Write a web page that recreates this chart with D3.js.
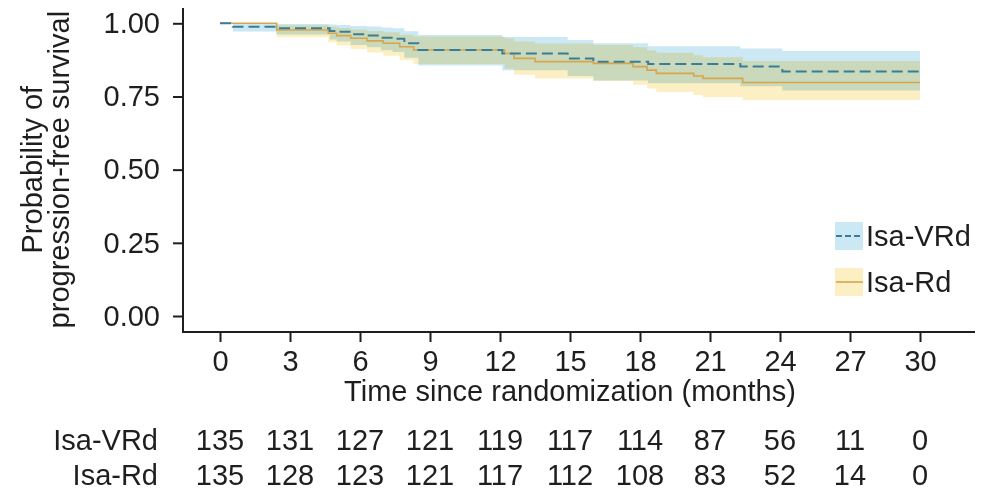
<!DOCTYPE html>
<html>
<head>
<meta charset="utf-8">
<script src="https://cdn.jsdelivr.net/npm/d3@7"></script>
<style>
  body { margin: 0; background: #fff; }
  svg { display: block; font-family: "Liberation Sans", Arial, sans-serif; }
</style>
</head>
<body>
<svg id="chart" width="981" height="493"></svg>
<script>
  // risk table
  var months = [0, 3, 6, 9, 12, 15, 18, 21, 24, 27, 30];
  var riskVRd = [135, 131, 127, 121, 119, 117, 114, 87, 56, 11, 0];
  var riskRd = [135, 128, 123, 121, 117, 112, 108, 83, 52, 14, 0];

  // Isa-VRd step curve + CI
  var vrdTime  = [0, 0.55, 2.4, 4.7, 5.0, 5.6, 6.3, 6.9, 7.4, 7.9, 8.5, 12.1, 14.9, 16.0, 18.35, 22.3, 24.1, 30];
  var vrdSurv  = [1.0, 0.988, 0.983, 0.974, 0.971, 0.963, 0.958, 0.951, 0.947, 0.932, 0.909, 0.897, 0.880, 0.869, 0.861, 0.852, 0.835, 0.835];
  var vrdUpper = [1.0, 1.0, 0.998, 0.996, 0.994, 0.991, 0.989, 0.986, 0.983, 0.973, 0.960, 0.953, 0.943, 0.932, 0.922, 0.914, 0.905, 0.905];
  var vrdLower = [1.0, 0.972, 0.962, 0.945, 0.938, 0.926, 0.918, 0.908, 0.902, 0.882, 0.856, 0.840, 0.820, 0.805, 0.795, 0.785, 0.770, 0.770];

  // Isa-Rd step curve + CI
  var rdTime  = [0, 2.43, 4.64, 5.0, 5.6, 6.3, 7.0, 7.7, 8.3, 12.2, 12.6, 13.5, 16.0, 17.7, 18.3, 18.7, 20.3, 20.7, 22.4, 30];
  var rdSurv  = [1.0, 0.977, 0.966, 0.958, 0.949, 0.940, 0.932, 0.920, 0.909, 0.897, 0.880, 0.869, 0.863, 0.852, 0.840, 0.829, 0.820, 0.812, 0.798, 0.798];
  var rdUpper = [1.0, 0.993, 0.988, 0.984, 0.979, 0.974, 0.969, 0.961, 0.955, 0.948, 0.938, 0.931, 0.926, 0.918, 0.908, 0.899, 0.891, 0.884, 0.871, 0.871];
  var rdLower = [1.0, 0.952, 0.935, 0.924, 0.912, 0.900, 0.889, 0.874, 0.861, 0.845, 0.824, 0.811, 0.803, 0.790, 0.777, 0.765, 0.755, 0.747, 0.738, 0.738];

  var yTicks = [0, 0.25, 0.5, 0.75, 1];

  var svg = d3.select("#chart");
  var ink = "#1e1e1e";
  var fs = "29px";

  var x = d3.scaleLinear().domain([0, 30]).range([220, 920]);
  var y = d3.scaleLinear().domain([0, 1]).range([316, 23.3]);

  function rows(t, s, lo, hi) {
    return t.map(function(d, i) { return { t: d, s: s[i], lo: lo[i], hi: hi[i] }; });
  }
  var vrd = rows(vrdTime, vrdSurv, vrdLower, vrdUpper);
  var rd = rows(rdTime, rdSurv, rdLower, rdUpper);

  var band = d3.area()
    .curve(d3.curveStepAfter)
    .x(function(d) { return x(d.t); })
    .y0(function(d) { return y(d.lo); })
    .y1(function(d) { return y(d.hi); });

  var line = d3.line()
    .curve(d3.curveStepAfter)
    .x(function(d) { return x(d.t); })
    .y(function(d) { return y(d.s); });

  var plot = svg.append("g").attr("class", "plot").style("isolation", "isolate");

  plot.append("path").datum(vrd)
    .attr("d", band)
    .attr("fill", "#cce8f4")
    .style("mix-blend-mode", "multiply");
  plot.append("path").datum(rd)
    .attr("d", band)
    .attr("fill", "#fdefc4")
    .style("mix-blend-mode", "multiply");

  plot.append("path").datum(rd)
    .attr("d", line)
    .attr("fill", "none")
    .attr("stroke", "#d6a64c")
    .attr("stroke-width", 1.6);
  plot.append("path").datum(vrd)
    .attr("d", line)
    .attr("fill", "none")
    .attr("stroke", "#3a7d98")
    .attr("stroke-width", 2)
    .attr("stroke-dasharray", "11,5");

  // axes
  var yAxis = svg.append("g")
    .attr("transform", "translate(183,0)")
    .call(d3.axisLeft(y).tickValues(yTicks).tickFormat(d3.format(".2f")).tickSize(10).tickPadding(13));
  var xAxis = svg.append("g")
    .attr("transform", "translate(0,332)")
    .call(d3.axisBottom(x).tickValues(months).tickFormat(d3.format("d")).tickSize(10).tickPadding(8));

  [yAxis, xAxis].forEach(function(g) {
    g.select(".domain").remove();
    g.selectAll(".tick line").attr("stroke", ink).attr("stroke-width", 2);
    g.selectAll(".tick text")
      .attr("fill", ink)
      .style("font-family", '"Liberation Sans", Arial, sans-serif')
      .style("font-size", fs);
  });

  svg.append("path")
    .attr("d", "M183,8V332H975")
    .attr("fill", "none")
    .attr("stroke", ink)
    .attr("stroke-width", 2);

  // axis titles
  svg.append("text")
    .attr("x", x(15))
    .attr("y", 401)
    .attr("text-anchor", "middle")
    .attr("fill", ink)
    .style("font-size", fs)
    .text("Time since randomization (months)");

  var yTitle = svg.append("text")
    .attr("transform", "translate(0," + y(0.5) + ") rotate(-90)")
    .attr("text-anchor", "middle")
    .attr("fill", ink)
    .style("font-size", fs);
  yTitle.append("tspan").attr("x", 0).attr("y", 42).text("Probability of");
  yTitle.append("tspan").attr("x", 0).attr("y", 69).text("progression-free survival");

  // legend
  var legend = svg.append("g").attr("transform", "translate(835,222)");
  var items = [
    { name: "Isa-VRd", fill: "#cce8f4", stroke: "#3a7d98", dash: "6,3", w: 2 },
    { name: "Isa-Rd", fill: "#fdefc4", stroke: "#d6a64c", dash: null, w: 1.6 }
  ];
  items.forEach(function(it, i) {
    var g = legend.append("g").attr("transform", "translate(0," + (i * 46) + ")");
    g.append("rect").attr("width", 28).attr("height", 28).attr("fill", it.fill);
    g.append("line")
      .attr("x1", 1).attr("x2", 28).attr("y1", 14).attr("y2", 14)
      .attr("stroke", it.stroke).attr("stroke-width", it.w)
      .attr("stroke-dasharray", it.dash);
    g.append("text")
      .attr("x", 31).attr("y", 24)
      .attr("fill", ink)
      .style("font-size", fs)
      .text(it.name);
  });

  // numbers at risk
  var table = svg.append("g").attr("class", "risk");
  [["Isa-VRd", riskVRd, 450], ["Isa-Rd", riskRd, 485]].forEach(function(r) {
    table.append("text")
      .attr("x", 158).attr("y", r[2])
      .attr("text-anchor", "end")
      .attr("fill", ink)
      .style("font-size", fs)
      .text(r[0]);
    table.selectAll(null).data(r[1]).enter().append("text")
      .attr("x", function(d, i) { return x(months[i]); })
      .attr("y", r[2])
      .attr("text-anchor", "middle")
      .attr("fill", ink)
      .style("font-size", fs)
      .text(function(d) { return d; });
  });
</script>
</body>
</html>
